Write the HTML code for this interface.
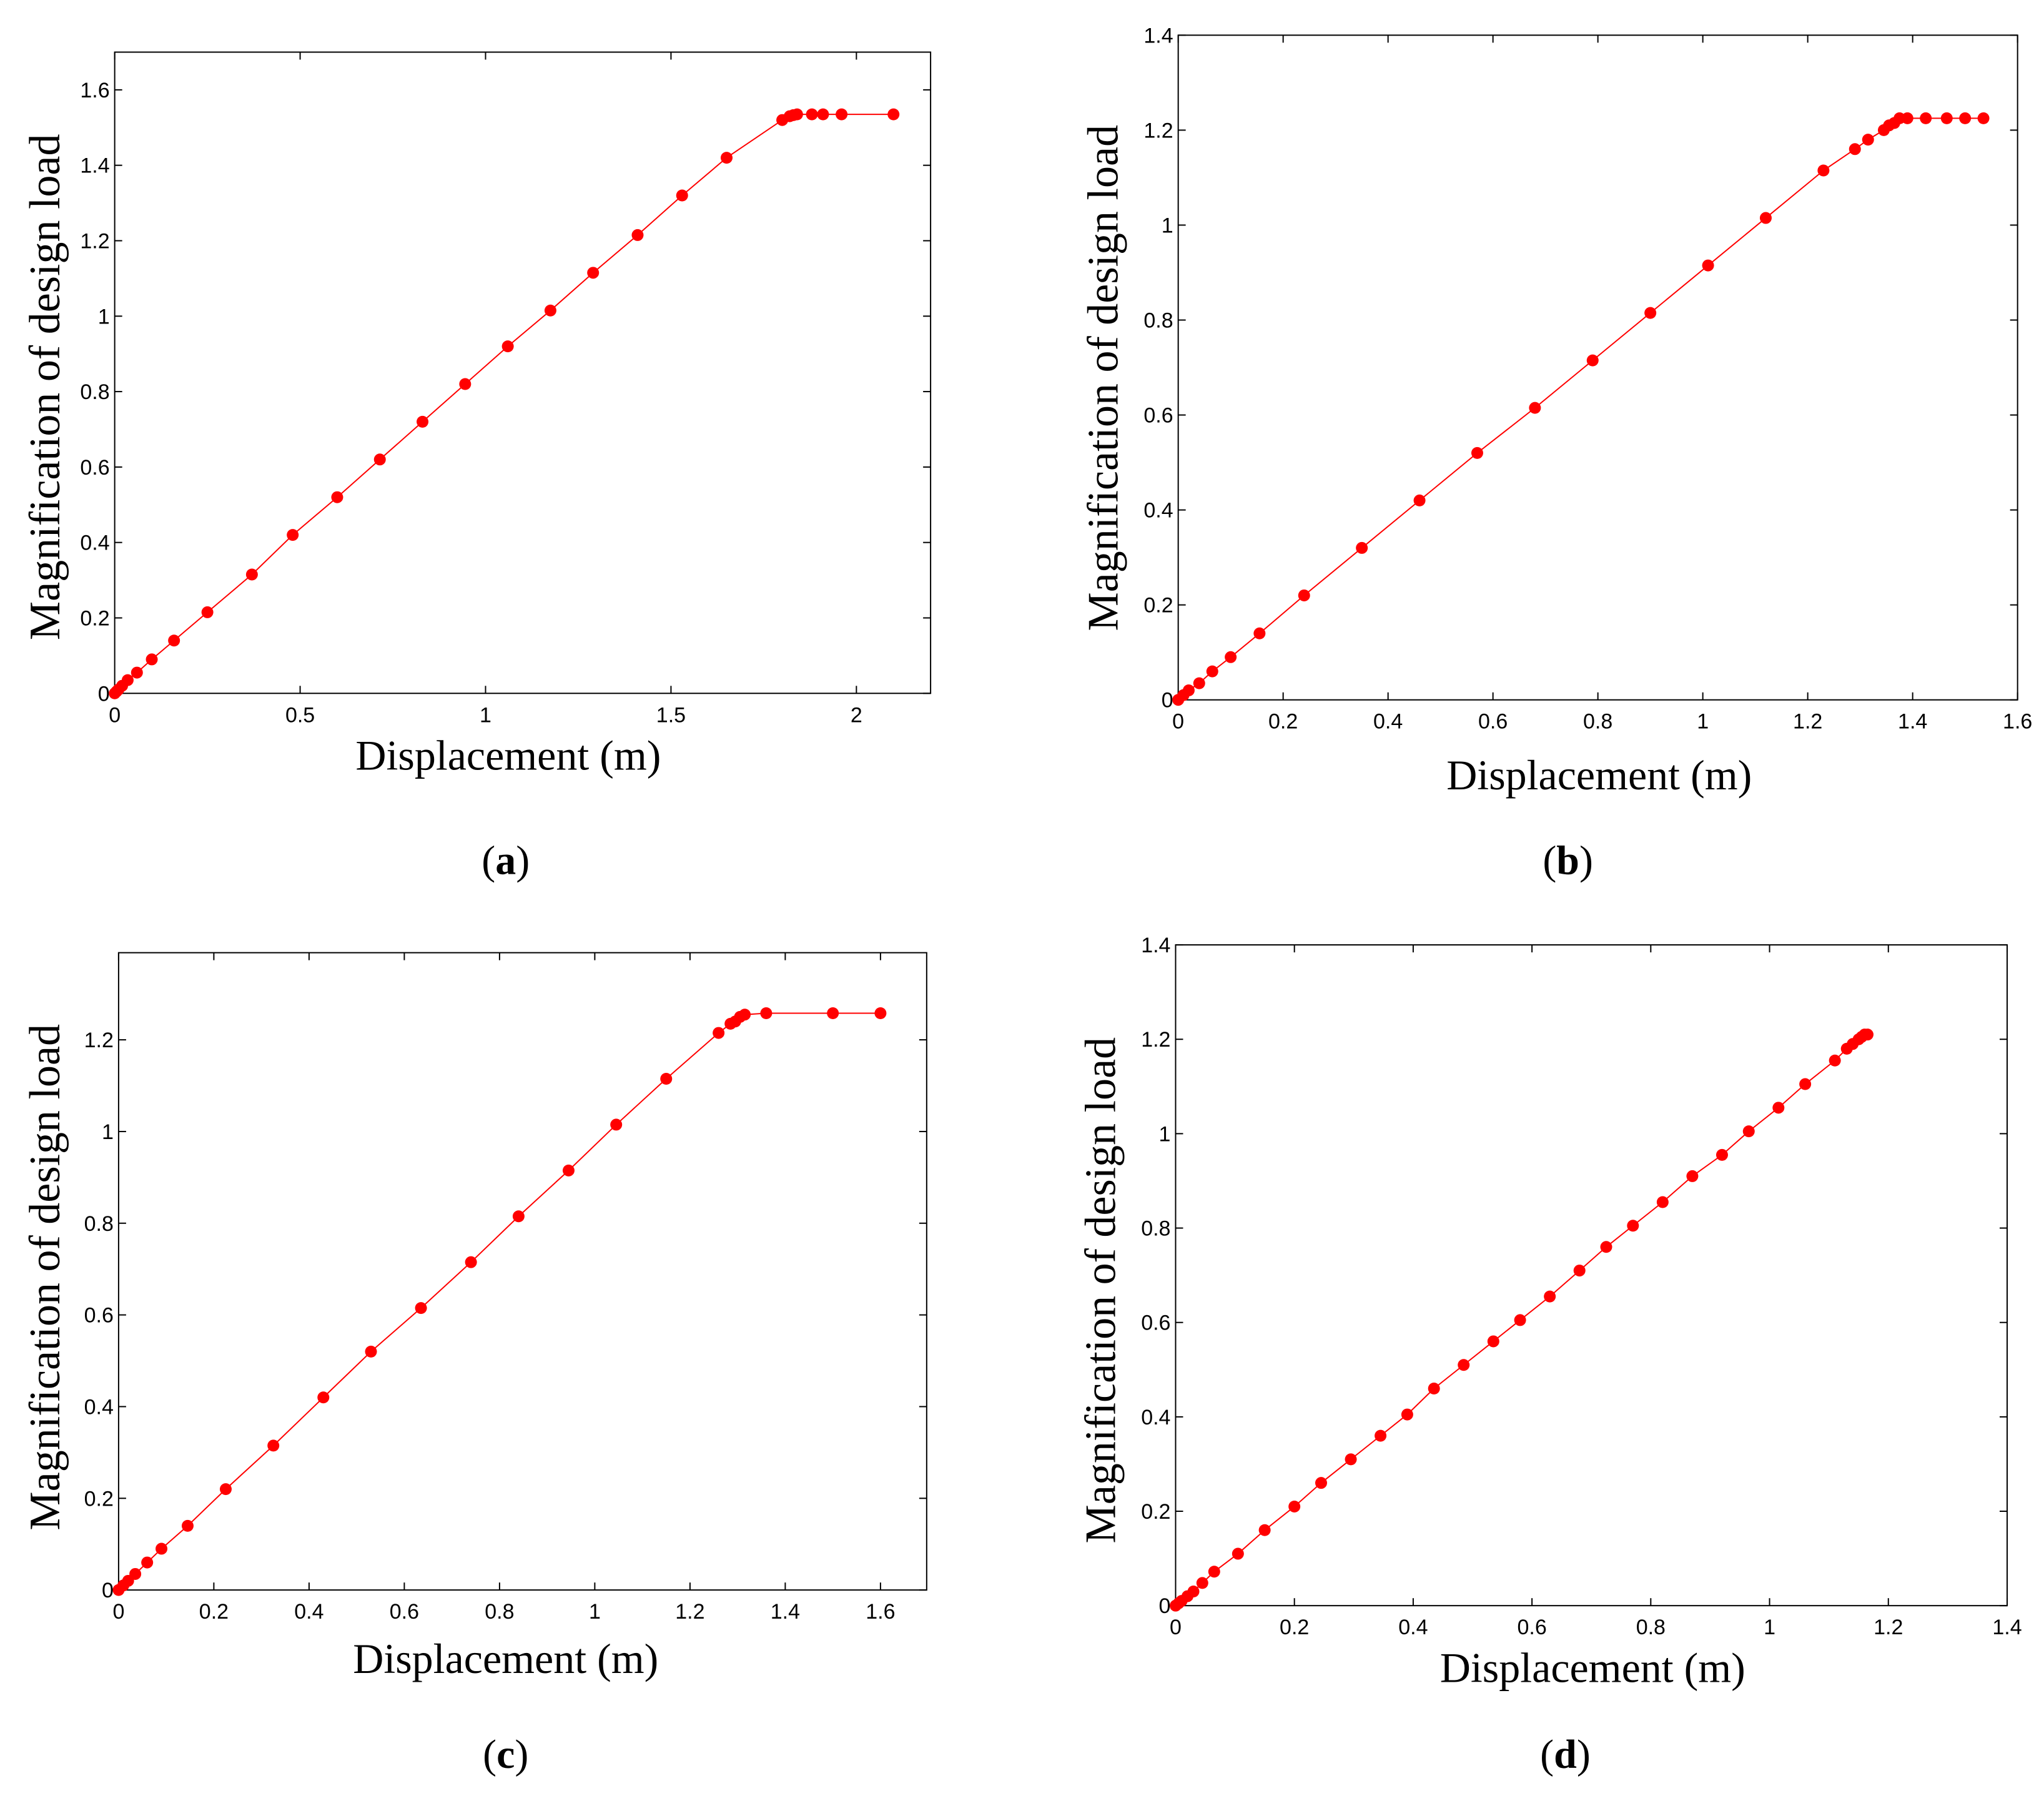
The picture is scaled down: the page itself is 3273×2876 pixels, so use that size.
<!DOCTYPE html>
<html><head><meta charset="utf-8"><style>
html,body{margin:0;padding:0;background:#fff}
svg{display:block}
</style></head><body>
<svg id="fig" width="3273" height="2876" viewBox="0 0 3273 2876" xmlns="http://www.w3.org/2000/svg"></svg>
<script>
// Panel data (x = displacement m, y = magnification of design load)
const aX=[0,0.005,0.01,0.02,0.035,0.06,0.1,0.16,0.25,0.37,0.48,0.6,0.715,0.83,0.945,1.06,1.175,1.29,1.41,1.53,1.65,1.8,1.82,1.83,1.84,1.88,1.91,1.96,2.1];
const aY=[0,0.005,0.01,0.02,0.035,0.055,0.09,0.14,0.215,0.315,0.42,0.52,0.62,0.72,0.82,0.92,1.015,1.115,1.215,1.32,1.42,1.52,1.53,1.533,1.535,1.535,1.535,1.535,1.535];
const bX=[0,0.01,0.02,0.04,0.065,0.1,0.155,0.24,0.35,0.46,0.57,0.68,0.79,0.9,1.01,1.12,1.23,1.29,1.315,1.345,1.355,1.365,1.375,1.39,1.425,1.465,1.5,1.535];
const bY=[0,0.01,0.02,0.035,0.06,0.09,0.14,0.22,0.32,0.42,0.52,0.615,0.715,0.815,0.915,1.015,1.115,1.16,1.18,1.2,1.21,1.215,1.225,1.225,1.225,1.225,1.225,1.225];
const cX=[0,0.01,0.02,0.035,0.06,0.09,0.145,0.225,0.325,0.43,0.53,0.635,0.74,0.84,0.945,1.045,1.15,1.26,1.285,1.295,1.305,1.315,1.36,1.5,1.6];
const cY=[0,0.01,0.02,0.035,0.06,0.09,0.14,0.22,0.315,0.42,0.52,0.615,0.715,0.815,0.915,1.015,1.115,1.215,1.235,1.24,1.25,1.255,1.258,1.258,1.258];
const dX=[0,0.005,0.01,0.02,0.03,0.045,0.065,0.105,0.15,0.2,0.245,0.295,0.345,0.39,0.435,0.485,0.535,0.58,0.63,0.68,0.725,0.77,0.82,0.87,0.92,0.965,1.015,1.06,1.11,1.13,1.14,1.15,1.155,1.16,1.165];
const dY=[0,0.005,0.01,0.02,0.03,0.048,0.072,0.11,0.16,0.21,0.26,0.31,0.36,0.405,0.46,0.51,0.56,0.605,0.655,0.71,0.76,0.805,0.855,0.91,0.955,1.005,1.055,1.105,1.155,1.18,1.19,1.2,1.205,1.21,1.21];
const aXTicks=["0","0.5","1","1.5","2"];
const aYTicks=["0","0.2","0.4","0.6","0.8","1","1.2","1.4","1.6"];
const bXTicks=["0","0.2","0.4","0.6","0.8","1","1.2","1.4","1.6"];
const bYTicks=["0","0.2","0.4","0.6","0.8","1","1.2","1.4"];
const cXTicks=["0","0.2","0.4","0.6","0.8","1","1.2","1.4","1.6"];
const cYTicks=["0","0.2","0.4","0.6","0.8","1","1.2"];
const dXTicks=["0","0.2","0.4","0.6","0.8","1","1.2","1.4"];
const dYTicks=["0","0.2","0.4","0.6","0.8","1","1.2","1.4"];

const S=2.087;
const NS="http://www.w3.org/2000/svg";
const svg=document.getElementById('fig');
function mk(tag,attrs,parent){const e=document.createElementNS(NS,tag);for(const k in attrs)e.setAttribute(k,attrs[k]);(parent||svg).appendChild(e);return e;}

const panels=[
 {id:'a',X:aX,Y:aY,xt:aXTicks,yt:aYTicks,L:88,R:714,T:40,B:532,xmax:2.2,ymax:1.7,xl:[390,580],yl:[35,297],lab:[388,660]},
 {id:'b',X:bX,Y:bY,xt:bXTicks,yt:bYTicks,L:904,R:1548,T:27,B:537,xmax:1.6,ymax:1.4,xl:[1227,595],yl:[847,290],lab:[1203,660]},
 {id:'c',X:cX,Y:cY,xt:cXTicks,yt:cYTicks,L:91,R:711,T:731,B:1220,xmax:1.697,ymax:1.39,xl:[388,1273],yl:[35,980],lab:[388,1346]},
 {id:'d',X:dX,Y:dY,xt:dXTicks,yt:dYTicks,L:902,R:1540,T:725,B:1232,xmax:1.4,ymax:1.4,xl:[1222,1280],yl:[845,990],lab:[1201,1346]}
];

panels.forEach(p=>{
 const L=p.L*S,R=p.R*S,T=p.T*S,B=p.B*S;
 const sx=v=>L+v/p.xmax*(R-L);
 const sy=v=>B-v/p.ymax*(B-T);
 const g=mk('g',{});
 
 
 const box=mk('rect',{x:L,y:T,width:R-L,height:B-T,fill:'none',stroke:'#000','stroke-width':2},g);
 
 
 const tl=12;
 p.xt.forEach(t=>{
  const v=parseFloat(t),x=sx(v);
  mk('line',{x1:x,y1:B,x2:x,y2:B-tl,stroke:'#000','stroke-width':2},g);
  mk('line',{x1:x,y1:T,x2:x,y2:T+tl,stroke:'#000','stroke-width':2},g);
  const tx=mk('text',{x:x,y:B+46,'font-family':'Liberation Sans, sans-serif','font-size':34,'text-anchor':'middle',fill:'#000'},g);
  tx.textContent=t;
  
  
 });
 p.yt.forEach(t=>{
  const v=parseFloat(t),y=sy(v);
  mk('line',{x1:L,y1:y,x2:L+tl,y2:y,stroke:'#000','stroke-width':2},g);
  mk('line',{x1:R,y1:y,x2:R-tl,y2:y,stroke:'#000','stroke-width':2},g);
  const ty=mk('text',{x:L-8,y:y+12,'font-family':'Liberation Sans, sans-serif','font-size':34,'text-anchor':'end',fill:'#000'},g);
  ty.textContent=t;
  
  
 });
 const pts=p.X.map((x,i)=>sx(x)+','+sy(p.Y[i])).join(' ');
 const line=mk('polyline',{points:pts,fill:'none',stroke:'#ff0000','stroke-width':2},g);
 
 
 p.X.forEach((x,i)=>{
  const c=mk('circle',{cx:sx(x),cy:sy(p.Y[i]),r:9.5,fill:'#ff0000'},g);
  
  
 });
 const xl=mk('text',{x:p.xl[0]*S,y:p.xl[1]*S+22,'font-family':'Liberation Serif, serif','font-size':68,'text-anchor':'middle',fill:'#000'},g);
 xl.textContent='Displacement (m)';
 
 
 const yx=p.yl[0]*S+22,yy=p.yl[1]*S;
 const yl=mk('text',{x:yx,y:yy,'font-family':'Liberation Serif, serif','font-size':70,'text-anchor':'middle',fill:'#000',transform:'rotate(-90 '+yx+' '+yy+')'},g);
 yl.textContent='Magnification of design load';
 
 
 const lb=mk('text',{x:p.lab[0]*S,y:p.lab[1]*S+22,'font-family':'Liberation Serif, serif','font-size':66,'text-anchor':'middle',fill:'#000'},g);
 lb.innerHTML='(<tspan font-weight="bold">'+p.id+'</tspan>)';
 
 
});
</script>
</body></html>
